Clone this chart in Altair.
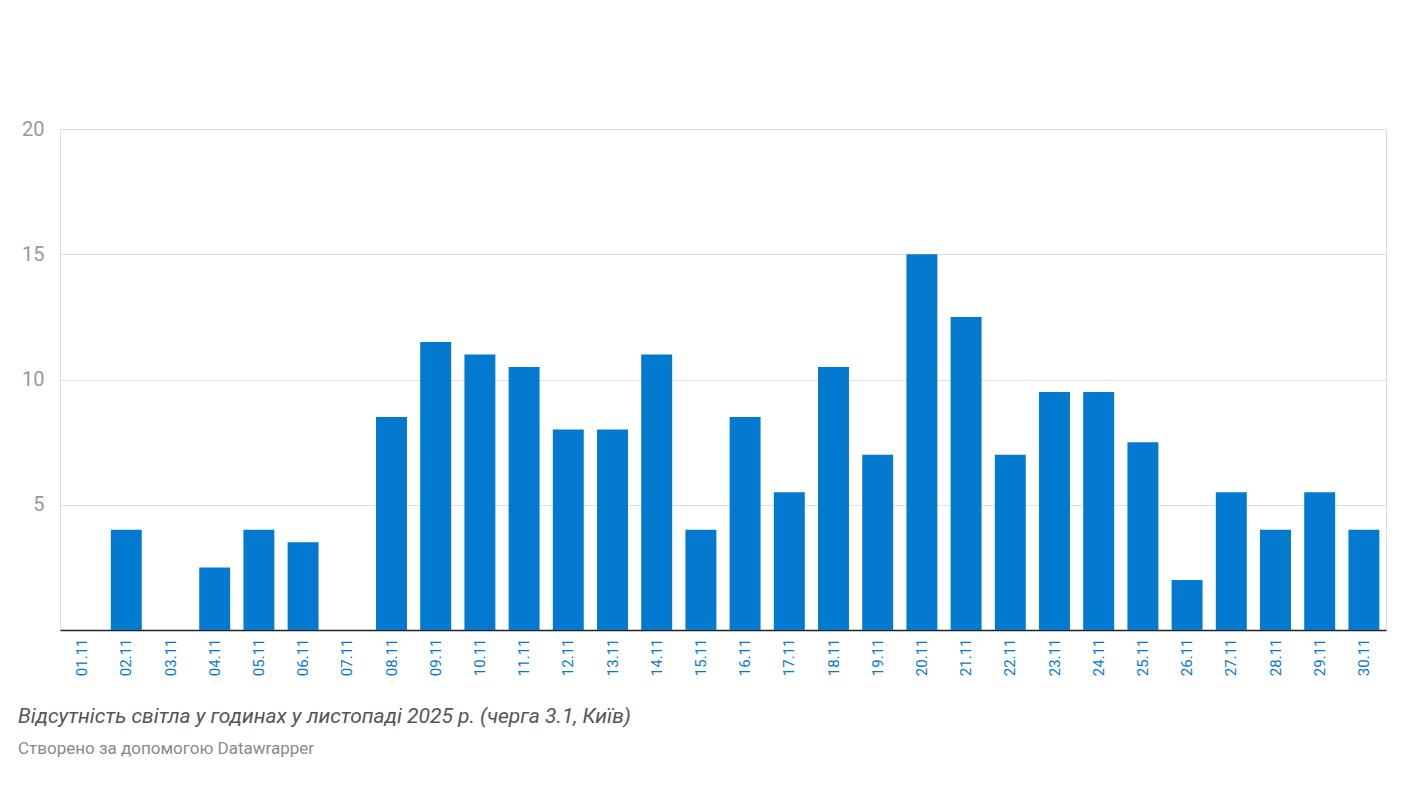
import pandas as pd
import altair as alt

days = [f"{d:02d}.11" for d in range(1, 31)]
hours = [0, 4, 0, 2.5, 4, 3.5, 0, 8.5, 11.5, 11, 10.5, 8, 8, 11, 4,
         8.5, 5.5, 10.5, 7, 15, 12.5, 7, 9.5, 9.5, 7.5, 2, 5.5, 4, 5.5, 4]

df = pd.DataFrame({"day": days, "hours": hours})

chart = (
    alt.Chart(df)
    .mark_bar(color="#0379cf")
    .encode(
        x=alt.X("day:N", sort=days, title=None,
                scale=alt.Scale(paddingInner=0.3, paddingOuter=0.15),
                axis=alt.Axis(labelAngle=-90, labelColor="#0379cf", labelFontSize=15,
                              labelFont="Roboto", ticks=False, domainColor="#222222",
                              domainWidth=1.5, labelPadding=8, labelBaseline="middle",
                              labelAlign="right")),
        y=alt.Y("hours:Q", title=None,
                scale=alt.Scale(domain=[0, 20]),
                axis=alt.Axis(values=[5, 10, 15, 20], labelColor="#999999", labelFontSize=20,
                              labelFont="Roboto", ticks=False, domain=False,
                              gridColor="#e0e0e0", labelPadding=16)),
    )
    .properties(
        width=1326,
        height=501,
        padding={"left": 10, "top": 111, "right": 12, "bottom": 10},
        title=alt.TitleParams(
            text="Відсутність світла у годинах у листопаді 2025 р. (черга 3.1, Київ)",
            subtitle="Створено за допомогою Datawrapper",
            orient="bottom", anchor="start", frame="group", offset=30,
            font="Roboto", fontSize=21, fontStyle="italic", fontWeight="normal",
            color="#555555", subtitleFont="Roboto", subtitleFontSize=17,
            subtitleColor="#8a8a8a", subtitlePadding=14, dx=-42,
        ),
    )
    .configure_view(stroke=None)
    .configure(background="white")
)

chart.save("out.html", embed_options={"renderer": "svg", "actions": False})
